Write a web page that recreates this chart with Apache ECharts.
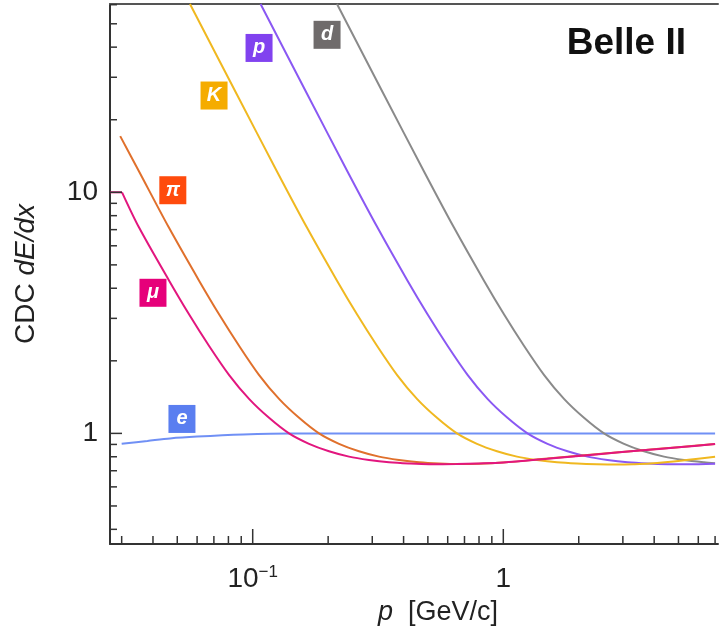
<!DOCTYPE html>
<html>
<head>
<meta charset="utf-8">
<script src="https://cdn.jsdelivr.net/npm/echarts@6/dist/echarts.min.js"></script>
<style>html,body{margin:0;padding:0;background:#fff;}#c{width:721px;height:631px;}</style>
</head>
<body>
<div id="c"></div>
<script>
// ---- axis ranges ----
const xMin = 0.02695, xMax = 7.19;
const yMin = 0.3477, yMax = 60.4;

// ---- tick values ----
const xMajorTicks = [0.1, 1];
const xMinorTicks = [0.03,0.04,0.05,0.06,0.07,0.08,0.09,0.2,0.3,0.4,0.5,0.6,0.7,0.8,0.9,2,3,4,5,6,7];
const yMajorTicks = [1, 10];
const yMinorTicks = [0.4,0.5,0.6,0.7,0.8,0.9,2,3,4,5,6,7,8,9,20,30,40,50,60];
const xLabelValues = [0.1, 1];
const xLabelTexts = ['{b|10}{s|\u22121}', '{b|1}'];
const yLabelValues = [1, 10];
const yLabelTexts = ['1', '10'];

// ---- curves [p (GeV/c), dE/dx] ----
const eData = [[0.030,0.905],[0.038,0.93],[0.0468,0.953],[0.06,0.97],[0.0915,0.99],[0.141,1.0],[0.3,1.0],[1,1.0],[3,1.0],[7.0,1.0]];
const muCapData = [[0.02695,10],[0.0301,10]];
const muData = [[0.0301,10],[0.0352,7.14],[0.0464,4.30],[0.0557,3.12],[0.0669,2.31],[0.0804,1.75],[0.0967,1.39],[0.1162,1.16],[0.1396,1.0],[0.1678,0.905],[0.2016,0.843],[0.2423,0.801],[0.2911,0.776],[0.3499,0.759],[0.4205,0.750],[0.5053,0.745],[0.65,0.746],[0.8,0.75],[1.0,0.757],[1.5,0.785],[2.4,0.82],[3.5,0.849],[5.0,0.876],[7.0,0.903]];
const piData = [[0.0296,17.1],[0.0352,12.2],[0.0463,7.14],[0.0611,4.30],[0.0734,3.12],[0.0882,2.31],[0.1059,1.75],[0.1274,1.39],[0.1531,1.16],[0.1839,1.0],[0.2210,0.905],[0.2655,0.843],[0.3192,0.801],[0.3835,0.776],[0.4609,0.759],[0.5540,0.750],[0.6658,0.746],[0.80,0.748],[1.0,0.757],[1.5,0.786],[2.4,0.821],[3.5,0.85],[5.0,0.877],[7.0,0.904]];
const kData = [[0.0562,60.4],[0.0866,25.4],[0.1250,12.2],[0.1646,7.14],[0.2170,4.30],[0.2607,3.12],[0.3133,2.31],[0.3764,1.75],[0.4524,1.39],[0.5437,1.16],[0.6533,1.0],[0.7852,0.905],[0.9437,0.843],[1.134,0.801],[1.363,0.776],[1.638,0.759],[1.968,0.750],[2.365,0.745],[2.843,0.743],[3.3,0.745],[3.85,0.750],[5.21,0.772],[7.0,0.80]];
const pData = [[0.1075,60.4],[0.1655,25.4],[0.2389,12.2],[0.3148,7.14],[0.4148,4.30],[0.4984,3.12],[0.5990,2.31],[0.7199,1.75],[0.8650,1.39],[1.039,1.16],[1.249,1.0],[1.501,0.905],[1.804,0.843],[2.168,0.801],[2.605,0.776],[3.131,0.759],[3.762,0.750],[4.521,0.745],[5.434,0.744],[7.0,0.748]];
const dData = [[0.2170,60.4],[0.3341,25.4],[0.4826,12.2],[0.6356,7.14],[0.8375,4.30],[1.006,3.12],[1.209,2.31],[1.453,1.75],[1.747,1.39],[2.099,1.16],[2.522,1.0],[3.031,0.905],[3.642,0.843],[4.377,0.801],[5.260,0.776],[6.321,0.759],[7.0,0.752]];

// ---- particle tags ----
const tagNames = ['e','d','p','K','\u03c0','\u03bc'];
const tagX = [0.0522, 0.198, 0.106, 0.0701, 0.048, 0.040];
const tagY = [1.148, 45.0, 39.7, 25.2, 10.2, 3.83];
const tagColors = ['#5a7ef0','#6f6b6b','#8142ef','#f5ac00','#ff4b0d','#e6007a'];
const lineColors = ['#7090f5','#8a8a8a','#8a58f3','#f0b820','#e0702c','#e2167e'];
const seriesData = [eData, dData, pData, kData, piData, muData];

const FONT = '"Liberation Sans", Arial, Helvetica, sans-serif';

function isDecade(v) { const l = Math.log10(v); return Math.abs(l - Math.round(l)) < 1e-6; }
function findLabel(vals, texts, v) {
  for (let i = 0; i < vals.length; i++) if (Math.abs(Math.log10(vals[i]) - Math.log10(v)) < 1e-6) return texts[i];
  return '';
}

const curveSeries = seriesData.map((d, i) => ({
  type: 'line',
  name: tagNames[i],
  data: d,
  showSymbol: false,
  smooth: 0.3,
  lineStyle: { color: lineColors[i], width: 2 },
  itemStyle: { color: lineColors[i] },
  z: 3 + i,
  silent: true,
  markPoint: {
    silent: true,
    animation: false,
    data: [{
      coord: [tagX[i], tagY[i]],
      symbol: 'rect',
      symbolSize: [27, 28],
      itemStyle: { color: tagColors[i] },
      label: {
        show: true, position: 'inside', formatter: tagNames[i],
        color: '#fff', fontStyle: 'italic', fontWeight: 'bold', fontSize: 20, fontFamily: FONT
      }
    }]
  }
}));

const muCapSeries = {
  type: 'line', name: '\u03bc cap', data: muCapData, showSymbol: false, smooth: false,
  lineStyle: { color: lineColors[5], width: 2 }, z: 8, silent: true
};

const xTickData = xMajorTicks.map(v => [v, yMin, 1]).concat(xMinorTicks.map(v => [v, yMin, 0]));
const yTickData = yMajorTicks.map(v => [xMin, v, 1]).concat(yMinorTicks.map(v => [xMin, v, 0]));

const tickSeriesX = {
  type: 'custom', silent: true, clip: false, z: 20,
  data: xTickData,
  renderItem: function (params, api) {
    const p = api.coord([api.value(0), api.value(1)]);
    const len = api.value(2) ? 15 : 8;
    return { type: 'line', shape: { x1: p[0], y1: p[1], x2: p[0], y2: p[1] - len }, style: { stroke: '#333', lineWidth: 1.5 } };
  }
};
const tickSeriesY = {
  type: 'custom', silent: true, clip: false, z: 20,
  data: yTickData,
  renderItem: function (params, api) {
    const p = api.coord([api.value(0), api.value(1)]);
    const len = api.value(2) ? 12 : 7;
    return { type: 'line', shape: { x1: p[0], y1: p[1], x2: p[0] + len, y2: p[1] }, style: { stroke: '#333', lineWidth: 1.5 } };
  }
};

const chart = echarts.init(document.getElementById('c'), null, { renderer: 'canvas' });
chart.setOption({
  animation: false,
  backgroundColor: '#fff',
  grid: { left: 110, right: 3, top: 4, bottom: 85, containLabel: false },
  xAxis: [{
    type: 'log', logBase: 10, min: xMin, max: xMax,
    axisLine: { show: true, lineStyle: { color: '#333', width: 2 } },
    axisTick: { show: false },
    splitLine: { show: false },
    axisLabel: {
      margin: 20, color: '#222', fontFamily: FONT, showMinLabel: true, showMaxLabel: true,
      formatter: function (v) { return isDecade(v) ? findLabel(xLabelValues, xLabelTexts, v) : ''; },
      rich: {
        b: { fontSize: 28, lineHeight: 30, fontFamily: FONT, color: '#222' },
        s: { fontSize: 17, lineHeight: 17, verticalAlign: 'top', fontFamily: FONT, color: '#222' }
      }
    },
    name: '{i|p}{n|  [GeV/c]}',
    nameLocation: 'middle',
    nameGap: 55,
    nameTextStyle: {
      padding: [0, 0, 0, 48],
      rich: {
        i: { fontSize: 27, fontStyle: 'italic', fontFamily: FONT, color: '#222' },
        n: { fontSize: 27, fontFamily: FONT, color: '#222' }
      }
    }
  }, {
    type: 'log', logBase: 10, min: xMin, max: xMax, position: 'top',
    axisLine: { show: true, lineStyle: { color: '#555', width: 2 } },
    axisTick: { show: false }, axisLabel: { show: false }, splitLine: { show: false }
  }],
  yAxis: {
    type: 'log', logBase: 10, min: yMin, max: yMax,
    axisLine: { show: true, lineStyle: { color: '#333', width: 2 } },
    axisTick: { show: false },
    splitLine: { show: false },
    axisLabel: {
      margin: 12, color: '#222', fontSize: 28, fontFamily: FONT,
      formatter: function (v) { return isDecade(v) ? findLabel(yLabelValues, yLabelTexts, v) : ''; }
    },
    name: '{n|CDC }{i|dE/dx}',
    nameLocation: 'middle',
    nameGap: 70,
    nameTextStyle: {
      rich: {
        i: { fontSize: 28, fontStyle: 'italic', fontFamily: FONT, color: '#222' },
        n: { fontSize: 28, fontFamily: FONT, color: '#222' }
      }
    }
  },
  graphic: [{
    type: 'text', z: 100,
    x: 686, y: 44,
    style: { text: 'Belle II', align: 'right', verticalAlign: 'middle', font: 'bold 37px ' + FONT, fill: '#111' }
  }],
  series: curveSeries.concat([muCapSeries, tickSeriesX, tickSeriesY])
});
</script>
</body>
</html>
